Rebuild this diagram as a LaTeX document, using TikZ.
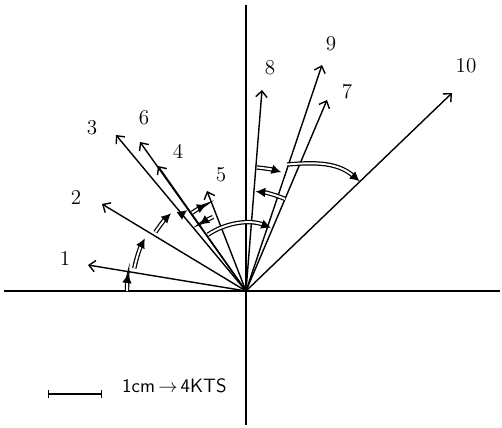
\documentclass[tikz,border=0pt]{standalone}
\usepackage{tikz}
\usetikzlibrary{arrows.meta}

\begin{document}
\begin{tikzpicture}[
    x=0.02cm, y=0.02cm,
    axis/.style={line width=1pt, draw=black},
    vec/.style={-{Straight Barb[length=3.5pt,width=6.5pt]}, line width=0.8pt},
    turn/.style={-{Latex[length=5.5pt,width=5.5pt]}, double, double distance=1.1pt, line width=0.7pt},
    num/.style={font=\fontsize{12}{14}\selectfont, inner sep=0pt},
    scalebar/.style={{Bar[width=4pt]}-{Bar[width=4pt]}, line width=0.8pt}
  ]
  \useasboundingbox (-246,-136) rectangle (256,291);
  \coordinate (O) at (0,0);
  \coordinate (west) at (-242,0);
  \coordinate (east) at (254,0);
  \coordinate (north) at (0,286);
  \coordinate (south) at (0,-134);
  \draw[axis] (west) -- (east);
  \draw[axis] (north) -- (south);

  \foreach \n/\x/\y in {1/-158/26, 2/-144/87, 3/-130/156, 6/-106/149, 4/-88/125,
      5/-39/100, 8/16/201, 9/76/226, 7/81/191, 10/206/198}
    \coordinate (v\n) at (\x,\y);
  \foreach \n in {1,...,10}
    \draw[vec] (O) -- (v\n);

  \foreach \n/\x/\y in {1/-181/33, 2/-170/94, 3/-154/163, 6/-102/173, 4/-68/140,
      5/-25/116, 8/24/223, 9/85/247, 7/101/199, 10/220/225}
    \node[num] (l\n) at (\x,\y) {\n};

  \draw[turn] (180:119) arc[start angle=180, end angle=171.5, radius=119];
  \draw[turn] (168.5:114) arc[start angle=168.5, end angle=152.5, radius=114];
  \draw[turn] (147:108) arc[start angle=147, end angle=134, radius=108];
  \draw[turn] (130.5:100) arc[start angle=130.5, end angle=126, radius=100];
  \draw[turn] (124.5:95) arc[start angle=124.5, end angle=114.5, radius=95];
  \draw[turn] (114:81) arc[start angle=114, end angle=125, radius=81];
  \draw[turn] (124:68) arc[start angle=124, end angle=68.5, radius=68];
  \draw[turn] (67:100) arc[start angle=67, end angle=84.5, radius=100];
  \draw[turn] (85:124) arc[start angle=85, end angle=73.5, radius=124];
  \draw[turn] (72:133) to[out=5, in=140] (44:158);

  \coordinate (barl) at (-198,-103);
  \coordinate (barr) at (-144,-103);
  \draw[scalebar] (barl) -- (barr);
  \node[font=\fontsize{11}{13}\sffamily, anchor=west] (key) at (-130,-95)
    {1cm\,$\rightarrow$\,4KTS};
\end{tikzpicture}
\end{document}
